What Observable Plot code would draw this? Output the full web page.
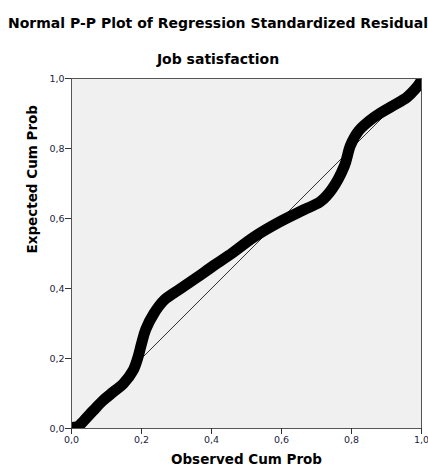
<!DOCTYPE html>
<html>
<head>
<meta charset="utf-8">
<script src="https://cdn.jsdelivr.net/npm/d3@7"></script>
<script src="https://cdn.jsdelivr.net/npm/@observablehq/plot@0.6"></script>
<style>
  html, body { margin: 0; padding: 0; background: #ffffff; }
  #wrap { position: relative; width: 428px; height: 471px; overflow: hidden; font-family: "DejaVu Sans", sans-serif; }
  #title { position: absolute; left: 4px; width: 428px; top: 15px; text-align: center; font-weight: bold; font-size: 14px; color: #000; white-space: nowrap; }
  #subtitle { position: absolute; left: 4px; width: 428px; top: 51px; text-align: center; font-weight: bold; font-size: 14px; color: #000; white-space: nowrap; }
  #chart { position: absolute; left: 0; top: 70px; }
</style>
</head>
<body>
<div id="wrap">
  <div id="title">Normal P-P Plot of Regression Standardized Residual</div>
  <div id="subtitle">Job satisfaction</div>
  <div id="chart"></div>
</div>
<script>
// Observed cumulative probability (x) and expected cumulative probability (y)
const observedCumProb = [0.000, 0.018, 0.035, 0.062, 0.090, 0.119, 0.148, 0.176, 0.190, 0.200, 0.212, 0.235, 0.264, 0.311, 0.359, 0.407, 0.449, 0.521, 0.592, 0.664, 0.711, 0.745, 0.780, 0.797, 0.821, 0.864, 0.911, 0.959, 0.983, 0.997, 1.000];
const expectedCumProb = [0.003, 0.006, 0.022, 0.051, 0.080, 0.104, 0.128, 0.166, 0.204, 0.242, 0.283, 0.328, 0.366, 0.399, 0.432, 0.466, 0.494, 0.547, 0.589, 0.625, 0.648, 0.685, 0.751, 0.809, 0.851, 0.889, 0.918, 0.947, 0.971, 0.990, 1.000];
// Reference diagonal
const diagX = [0, 1];
const diagY = [0, 1];
// Tick values
const xTicks = [0, 0.2, 0.4, 0.6, 0.8, 1.0];
const yTicks = [0, 0.2, 0.4, 0.6, 0.8, 1.0];
const xTitle = "Observed Cum Prob";
const yTitle = "Expected Cum Prob";

const pts = observedCumProb.map((x, i) => ({x, y: expectedCumProb[i]}));
const diag = diagX.map((x, i) => ({x, y: diagY[i]}));
const fmt = d => d.toFixed(1).replace(".", ",");

const chart = Plot.plot({
  width: 428,
  height: 401,
  marginLeft: 71,
  marginRight: 7,
  marginTop: 8,
  marginBottom: 43,
  style: { fontFamily: "DejaVu Sans, sans-serif", background: "transparent" },
  x: { domain: [0, 1] },
  y: { domain: [0, 1] },
  marks: [
    Plot.frame({ fill: "#f0f0f0", stroke: null }),
    Plot.line(diag, { x: "x", y: "y", stroke: "#333", strokeWidth: 1 }),
    Plot.line(pts, { x: "x", y: "y", stroke: "#000", strokeWidth: 11, strokeLinecap: "round", strokeLinejoin: "round", curve: "catmull-rom", clip: true }),
    Plot.frame({ stroke: "#555", strokeWidth: 1 }),
    Plot.axisX(xTicks, { tickFormat: fmt, tickSize: 6, tickPadding: 2, fontSize: 9.5, stroke: "#333", fill: "#1c2340", label: null }),
    Plot.axisY(yTicks, { tickFormat: fmt, tickSize: 6, tickPadding: 1, fontSize: 9.5, stroke: "#333", fill: "#1c2340", label: null }),
    Plot.text([xTitle], { frameAnchor: "bottom", dy: 35, text: d => d, fontWeight: "bold", fontSize: 13.5, fill: "#000" }),
    Plot.text([yTitle], { frameAnchor: "left", dx: -39, rotate: -90, text: d => d, fontWeight: "bold", fontSize: 13.5, fill: "#000" })
  ]
});
document.getElementById("chart").appendChild(chart);
</script>
</body>
</html>
